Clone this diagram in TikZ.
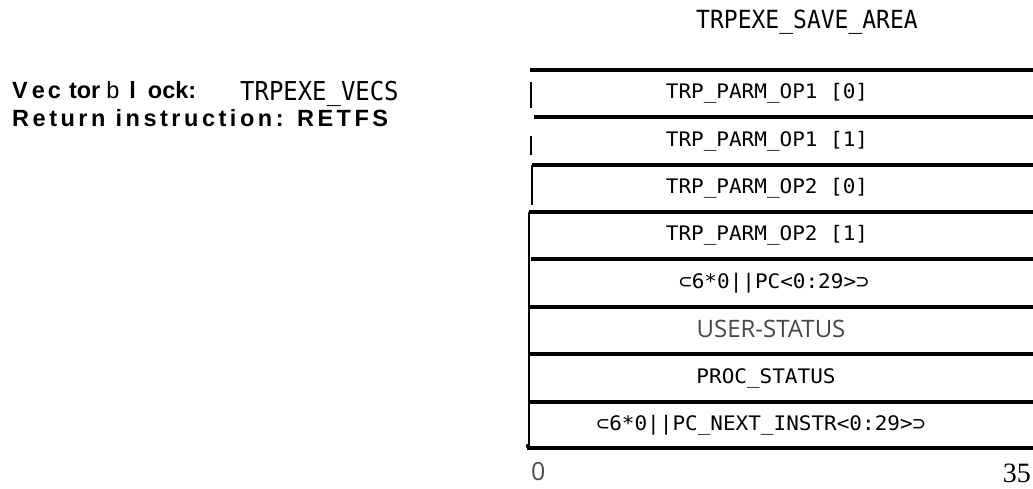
\documentclass[tikz,border=0pt]{standalone}
\usepackage{fontspec}
\setmainfont{Liberation Sans}
\newfontfamily\narrowmono[FakeStretch=0.92]{DejaVu Sans Mono}
\newfontfamily\rowfont[FakeStretch=1.05]{DejaVu Sans Mono}
\newfontfamily\userfont{Open Sans}
\newfontfamily\numfont{Liberation Serif}
\newfontfamily\spacedfont[LetterSpace=15]{Liberation Sans}
\begin{document}
\begin{tikzpicture}[x=1pt,y=-1pt,
  rule/.style={line width=3.4pt},
  tick/.style={line width=1.6pt},
  rowtext/.style={font=\rowfont\fontsize{20}{22}\selectfont, anchor=center, inner sep=0pt},
]
\useasboundingbox (0,0) rectangle (1033,488);
% title
\node[anchor=base, font=\narrowmono\fontsize{25}{27}\selectfont, inner sep=0pt] (title) at (807,28) {TRPEXE\_SAVE\_AREA};
% left labels
\node[anchor=base west, inner sep=0pt, font=\bfseries\fontsize{23.5}{26}\selectfont] (vec) at (12,98)
  {V\hspace{4pt}e\hspace{3pt}c\hspace{8pt}tor\hspace{6pt}{\mdseries b}\hspace{10pt}l\hspace{12pt}ock:};
\node[anchor=base west, inner sep=0pt, font=\narrowmono\fontsize{26}{28}\selectfont] (vecs) at (240,100) {TRPEXE\_VECS};
\node[anchor=base west, inner sep=0pt, font=\spacedfont\bfseries\fontsize{23.5}{26}\selectfont] (ret) at (12,126) {Return instruction: RETFS};
% horizontal rules
\coordinate (l0) at (530,70);  \coordinate (r0) at (1033,70);
\coordinate (l1) at (534,117); \coordinate (r1) at (1033,117);
\coordinate (l2) at (532,165); \coordinate (r2) at (1033,165);
\coordinate (l3) at (529,212); \coordinate (r3) at (1033,212);
\coordinate (l4) at (531,259); \coordinate (r4) at (1033,259);
\coordinate (l5) at (530,307); \coordinate (r5) at (1033,307);
\coordinate (l6) at (529,354); \coordinate (r6) at (1033,354);
\coordinate (l7) at (529,402); \coordinate (r7) at (1033,402);
\coordinate (l8) at (527,448); \coordinate (r8) at (1033,448);
\foreach \i in {0,...,8} { \draw[rule] (l\i) -- (r\i); }
% left verticals
\coordinate (t1a) at (531,82);  \coordinate (t1b) at (531,108);
\coordinate (t2a) at (531,136); \coordinate (t2b) at (531,155);
\coordinate (t3a) at (532,165); \coordinate (t3b) at (532,205);
\coordinate (t4a) at (529,212); \coordinate (t4b) at (529,448);
\draw[tick] (t1a) -- (t1b);
\draw[tick] (t2a) -- (t2b);
\draw[line width=2.4pt] (t3a) -- (t3b);
\draw[line width=2.2pt] (t4a) -- (t4b);
\fill (528,446) circle (2.2pt);
% row texts
\node[rowtext] (f1) at (767,93.5) {TRP\_PARM\_OP1 [0]};
\node[rowtext] (f2) at (767,141) {TRP\_PARM\_OP1 [1]};
\node[rowtext] (f3) at (767,188.5) {TRP\_PARM\_OP2 [0]};
\node[rowtext] (f4) at (767,235.5) {TRP\_PARM\_OP2 [1]};
\node[rowtext] (f5) at (774,283) {⊂6*0||PC<0:29>⊃};
\node[anchor=base, inner sep=0pt, font=\userfont\fontsize{24}{26}\selectfont, text=black!72] (f6) at (771,337) {USER-STATUS};
\node[rowtext] (f7) at (766,378) {PROC\_STATUS};
\node[rowtext] (f8) at (761,425) {⊂6*0||PC\_NEXT\_INSTR<0:29>⊃};
% bit numbers
\node[anchor=base west, inner sep=0pt, font=\userfont\fontsize{25}{27}\selectfont, text=black!70] (b0) at (531,480) {0};
\node[anchor=base east, inner sep=0pt, font=\numfont\fontsize{28}{30}\selectfont] (b35) at (1031,482) {35};
\end{tikzpicture}
\end{document}
